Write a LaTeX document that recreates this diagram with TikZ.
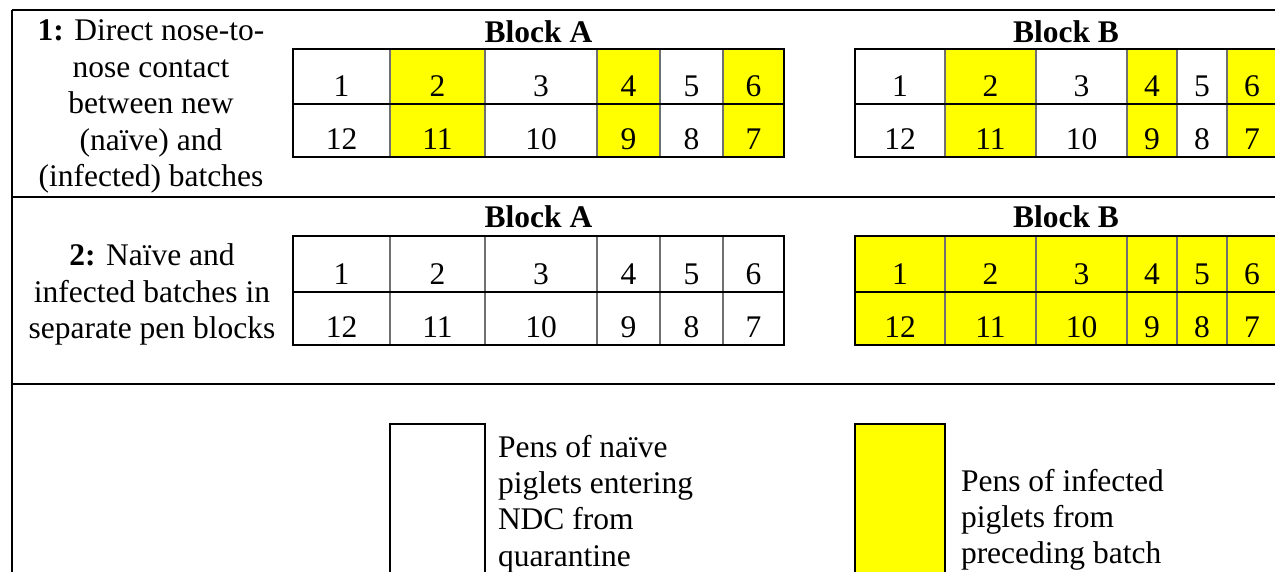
\documentclass[tikz,border=0pt]{standalone}
\usepackage{fontspec}
\setmainfont{Liberation Serif}
\definecolor{pyel}{HTML}{FFFF00}
\definecolor{igray}{HTML}{707070}
\newcommand\penblk[7]{% #1 prefix, #2 top, #3 mid, #4 bottom, #5 left x, #6 right x, #7 list
  \foreach \xa/\xb/\n/\m/\c in {#7}{\fill[\c] (\xa,#2) rectangle (\xb,#4);}
  \foreach \xa/\xb/\n/\m/\c [count=\k] in {#7}{%
    \draw[cellline] (\xb,#2) -- (\xb,#4);
    \node[num] (#1u\k) at ({(\xa+\xb)/2},{#3-8}) {\n};
    \node[num] (#1d\k) at ({(\xa+\xb)/2},{#4-8}) {\m};
  }
  \draw[tabline] (#5,#3) -- (#6,#3);
  \draw[tabline] (#5,#2) rectangle (#6,#4);
}
\begin{document}
\begin{tikzpicture}[x=1pt,y=-1pt,
  every node/.style={font=\fontsize{31.5}{36.5}\selectfont, inner sep=0pt, outer sep=0pt},
  num/.style={anchor=base},
  side/.style={anchor=base},
  blab/.style={anchor=base, font=\fontsize{31.5}{36.5}\selectfont\bfseries},
  legtxt/.style={anchor=base west},
  frame/.style={line width=2pt, black},
  cellline/.style={line width=1.2pt, igray},
  tabline/.style={line width=2pt, black},
  legbox/.style={line width=2pt, draw=black}]
\clip (0,0) rectangle (1275,571);
\fill[white] (0,0) rectangle (1275,571);

% frame lines
\draw[frame] (12,10) -- (1290,10);
\draw[frame] (12,197) -- (1290,197);
\draw[frame] (12,384) -- (1290,384);
\draw[frame] (12,10) -- (12,590);

% section 1 text
\node[side] (s1a) at (151,40.5) {\textbf{1:} Direct nose-to-};
\node[side] (s1b) at (151,77) {nose contact};
\node[side] (s1c) at (151,113.5) {between new};
\node[side] (s1d) at (151,150) {(naïve) and};
\node[side] (s1e) at (151,186.5) {(infected) batches};

% section 2 text
\node[side] (s2a) at (152,265) {\textbf{2:} Naïve and};
\node[side] (s2b) at (152,302) {infected batches in};
\node[side] (s2c) at (152,338) {separate pen blocks};

% block labels
\node[blab] (labA1) at (538.5,42) {Block A};
\node[blab] (labB1) at (1066,42) {Block B};
\node[blab] (labA2) at (538.5,227) {Block A};
\node[blab] (labB2) at (1066,227) {Block B};

% tables
\penblk{tA}{49}{104}{157}{293}{784}{293/390/1/12/white,390/485/2/11/pyel,485/597/3/10/white,597/660/4/9/pyel,660/723/5/8/white,723/784/6/7/pyel}
\penblk{tB}{49}{104}{157}{855}{1277}{855/945/1/12/white,945/1036/2/11/pyel,1036/1127/3/10/white,1127/1177/4/9/pyel,1177/1227/5/8/white,1227/1277/6/7/pyel}
\penblk{uA}{236}{292}{345}{293}{784}{293/390/1/12/white,390/485/2/11/white,485/597/3/10/white,597/660/4/9/white,660/723/5/8/white,723/784/6/7/white}
\penblk{uB}{236}{292}{345}{855}{1277}{855/945/1/12/pyel,945/1036/2/11/pyel,1036/1127/3/10/pyel,1127/1177/4/9/pyel,1177/1227/5/8/pyel,1227/1277/6/7/pyel}

% legend
\draw[legbox, fill=white] (390,424) rectangle (485,600);
\draw[legbox, fill=pyel] (855,424) rectangle (945,600);
\node[legtxt] (ln1) at (498,457) {Pens of naïve};
\node[legtxt] (ln2) at (498,493) {piglets entering};
\node[legtxt] (ln3) at (498,529) {NDC from};
\node[legtxt] (ln4) at (498,566) {quarantine};
\node[legtxt] (li1) at (961,491) {Pens of infected};
\node[legtxt] (li2) at (961,527) {piglets from};
\node[legtxt] (li3) at (961,563) {preceding batch};
\end{tikzpicture}
\end{document}
